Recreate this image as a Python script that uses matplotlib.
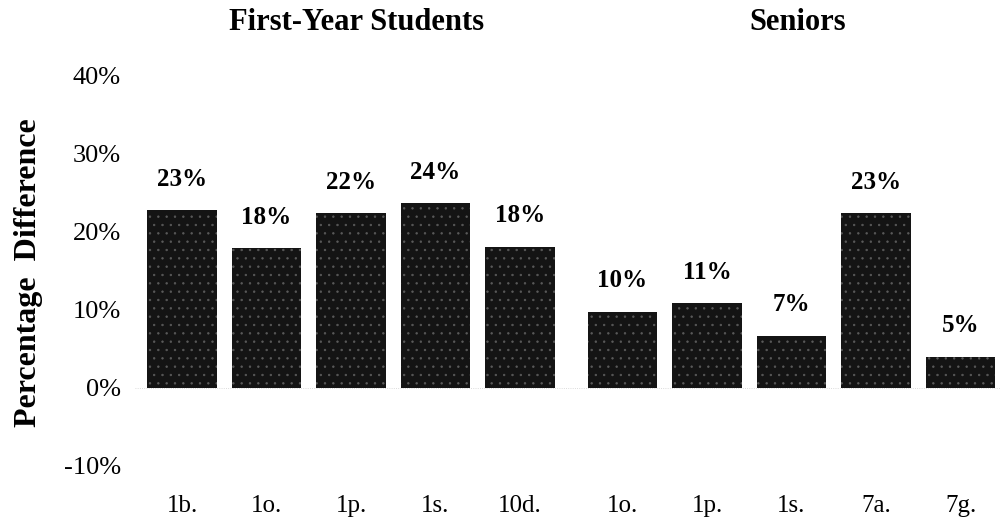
import matplotlib
matplotlib.use('Agg')
import matplotlib.pyplot as plt
import matplotlib.transforms as mtransforms
import numpy as np

# ---- data ----
groups = ["First-Year Students", "Seniors"]
fy_items = ["1b.", "1o.", "1p.", "1s.", "10d."]
fy_values = [22.8, 17.9, 22.4, 23.7, 18.1]
fy_labels = ["23%", "18%", "22%", "24%", "18%"]
sr_items = ["1o.", "1p.", "1s.", "7a.", "7g."]
sr_values = [9.8, 10.9, 6.7, 22.4, 4.0]
sr_labels = ["10%", "11%", "7%", "23%", "5%"]
yticks = [-10, 0, 10, 20, 30, 40]
ytick_labels = ["-10%", "0%", "10%", "20%", "30%", "40%"]
ylabel = "Percentage  Difference"

plt.rcParams['font.family'] = ['Liberation Serif', 'DejaVu Serif']
plt.rcParams['hatch.linewidth'] = 0.5

fig = plt.figure(figsize=(10, 5.23), dpi=100)
ax = fig.add_axes([0.135, 1 - 466 / 523, 0.865, (466 - 76) / 523])

gap = 1.213
fy_pos = np.arange(len(fy_items))
sr_pos = np.arange(len(sr_items)) + len(fy_items) - 1 + gap
positions = np.concatenate([fy_pos, sr_pos])
values = fy_values + sr_values
labels = fy_labels + sr_labels
items = fy_items + sr_items

bars = ax.bar(positions, values, width=0.82, color='#141414',
              edgecolor='#5a5a5a', hatch='..', linewidth=0)

for rect, lab in zip(bars, labels):
    ax.annotate(lab, (rect.get_x() + rect.get_width() / 2, rect.get_height()),
                xytext=(0, 14), textcoords='offset points',
                ha='center', va='bottom', fontsize=18, fontweight='bold')

ax.axhline(0, color='#cfcfcf', lw=0.6, ls=':', zorder=0)

ax.set_xlim(-0.556, 9.68)
ax.set_ylim(-10, 40)
ax.set_yticks(yticks)
ax.set_yticklabels(ytick_labels, fontsize=19)
ax.set_xticks(positions)
ax.set_xticklabels(items, fontsize=18)
ax.tick_params(axis='y', length=0, pad=10)
ax.tick_params(axis='x', length=0, pad=21)
for s in ax.spines.values():
    s.set_visible(False)

trans = mtransforms.blended_transform_factory(ax.transData, fig.transFigure)
ax.text(fy_pos.mean() + 0.07, 1 - 22 / 523, groups[0], transform=trans,
        ha='center', va='center', fontsize=22, fontweight='bold')
ax.text(sr_pos.mean() + 0.07, 1 - 22 / 523, groups[1], transform=trans,
        ha='center', va='center', fontsize=22, fontweight='bold')

fig.text(29 / 1000, 1 - 273 / 523, ylabel, rotation=90, ha='center',
         va='center', fontsize=23, fontweight='bold')

fig.savefig('out.png', dpi=100, facecolor='white')
